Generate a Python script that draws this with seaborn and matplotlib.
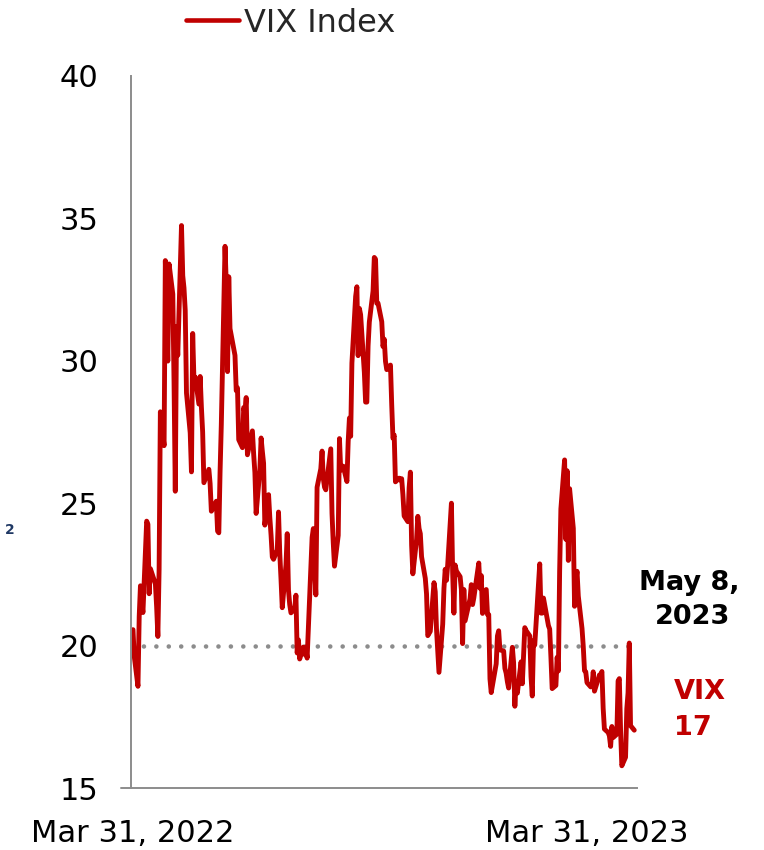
import numpy as np
import pandas as pd
import matplotlib
matplotlib.use("Agg")
import matplotlib.pyplot as plt
import seaborn as sns

# ---- data: VIX daily closes (trading days) ----
HOLIDAYS = ["2022-04-15", "2022-05-30", "2022-06-20", "2022-07-04", "2022-09-05",
            "2022-11-24", "2022-12-26", "2023-01-02", "2023-01-16", "2023-02-20",
            "2023-04-07"]
START_DATE = "2022-03-31"
END_DATE = "2023-05-08"

vix_2022_03 = [20.56]
vix_2022_04 = [19.63, 18.57, 21.03, 22.10, 21.55, 21.16, 24.37, 24.26, 21.82, 22.70,
               22.17, 21.37, 20.32, 22.68, 28.21, 27.02, 33.52, 31.60, 29.99, 33.40]
vix_2022_05 = [32.34, 29.25, 25.42, 31.20, 30.19, 34.75, 32.99, 32.56, 31.77, 28.87,
               27.47, 26.10, 30.96, 29.35, 29.43, 28.48, 29.45, 28.37, 27.50, 25.72, 26.19]
vix_2022_06 = [25.69, 24.72, 24.79, 25.07, 24.02, 23.96, 26.09, 27.75, 34.02, 32.69,
               29.62, 32.95, 31.13, 30.19, 28.95, 29.05, 27.23, 26.95, 28.36, 28.16, 28.71]
vix_2022_07 = [26.70, 27.54, 26.73, 26.08, 24.64, 26.17, 27.29, 26.82, 26.40, 24.23,
               25.30, 24.50, 23.88, 23.11, 23.03, 23.36, 24.69, 23.24, 22.33, 21.33]
vix_2022_08 = [22.84, 23.93, 21.95, 21.44, 21.15, 21.29, 21.77, 19.74, 20.20, 19.53,
               19.95, 19.69, 19.90, 19.56, 20.60, 23.80, 24.11, 22.82, 21.78, 25.56,
               26.21, 26.83, 25.87]
vix_2022_09 = [25.56, 25.47, 26.91, 24.64, 23.61, 22.79, 23.87, 27.27, 26.16, 26.27,
               26.30, 25.76, 27.16, 27.99, 27.35, 29.92, 32.26, 32.60, 30.18, 31.84, 31.62]
vix_2022_10 = [29.59, 28.55, 28.55, 30.52, 31.36, 32.45, 33.63, 33.57, 32.02, 32.02,
               31.37, 30.50, 30.76, 29.98, 29.69, 29.85, 28.46, 27.28, 27.39, 25.75, 25.88]
vix_2022_11 = [25.81, 25.86, 25.30, 24.55, 24.35, 25.54, 26.09, 23.53, 22.52, 23.73,
               24.54, 24.11, 23.93, 23.12, 22.36, 21.81, 20.35, 20.50, 22.21, 21.89, 20.58]
vix_2022_12 = [19.84, 19.06, 20.75, 22.01, 22.68, 22.29, 22.83, 25.00, 22.55, 21.14,
               22.83, 22.62, 22.42, 21.97, 20.07, 21.97, 20.87, 21.65, 22.14, 21.44, 21.67]
vix_2023_01 = [22.90, 22.01, 22.46, 21.13, 21.97, 21.09, 21.09, 18.83, 18.35, 19.36,
               20.34, 20.52, 19.85, 19.81, 19.20, 19.03, 18.73, 18.51, 19.94, 19.40]
vix_2023_02 = [17.87, 18.73, 18.33, 19.43, 18.66, 19.63, 20.63, 20.53, 20.34, 18.91,
               18.23, 20.17, 20.02, 22.87, 21.14, 21.14, 21.67, 20.95, 20.70]
vix_2023_03 = [20.58, 19.59, 18.49, 18.60, 19.59, 19.11, 22.61, 24.80, 26.52, 23.73,
               26.14, 22.99, 25.51, 24.12, 21.38, 22.26, 22.61, 21.74, 20.60, 19.97,
               19.12, 19.08, 18.70]
vix_2023_04 = [18.55, 18.58, 19.08, 18.40, 18.97, 18.97, 19.09, 17.80, 17.07, 16.95,
               16.83, 16.46, 17.16, 16.77, 16.89, 18.76, 18.84, 17.03, 15.78]
vix_2023_05 = [16.08, 17.78, 18.34, 20.09, 17.19, 17.03]

REFERENCE_LEVEL = 20
X_TICKS = ["2022-03-31", "2023-03-31"]
X_TICK_LABELS = ["Mar 31, 2022", "Mar 31, 2023"]
Y_TICKS = [15, 20, 25, 30, 35, 40]
SERIES_LABEL = "VIX Index"
DATE_NOTE = ["May 8,", "2023"]
VALUE_NOTE = ["VIX", "17"]

values = (vix_2022_03 + vix_2022_04 + vix_2022_05 + vix_2022_06 + vix_2022_07 +
          vix_2022_08 + vix_2022_09 + vix_2022_10 + vix_2022_11 + vix_2022_12 +
          vix_2023_01 + vix_2023_02 + vix_2023_03 + vix_2023_04 + vix_2023_05)
dates = pd.bdate_range(START_DATE, END_DATE, freq="C", holidays=HOLIDAYS)
n = min(len(dates), len(values))
if len(dates) != len(values):
    print("length mismatch", len(dates), len(values))
df = pd.DataFrame({"date": dates[:n], "vix": values[:n]})

# ---- style ----
sns.set_style("white")
plt.rcParams["font.family"] = ["DejaVu Sans"]

RED = "#C00000"
GREY = "#8C8C8C"

W, H = 764, 850
fig = plt.figure(figsize=(W / 100, H / 100), dpi=100)
L, R, B, T = 131, 637, 788, 76
ax = fig.add_axes([L / W, 1 - B / H, (R - L) / W, (B - T) / H])

sns.lineplot(data=df, x="date", y="vix", color=RED, linewidth=3.5, ax=ax,
             label=SERIES_LABEL, solid_joinstyle="round", solid_capstyle="round")

ax.axhline(REFERENCE_LEVEL, color=GREY, linewidth=3.3, linestyle=(0, (0.01, 2.7)),
           dash_capstyle="round", zorder=1)

ax.set_ylim(15, 40)
ax.set_xlim(pd.Timestamp("2022-03-31") - pd.Timedelta(days=1.6),
            pd.Timestamp("2023-05-10") + pd.Timedelta(days=0.2))
ax.set_yticks(Y_TICKS)
ax.set_xticks([pd.Timestamp(d) for d in X_TICKS])
ax.set_xticklabels(X_TICK_LABELS)
ax.set_xlabel("")
ax.set_ylabel("")

for s in ["top", "right"]:
    ax.spines[s].set_visible(False)
for s in ["left", "bottom"]:
    ax.spines[s].set_color(GREY)
    ax.spines[s].set_linewidth(1.4)
ax.plot([-0.02, 0], [0, 0], transform=ax.transAxes, clip_on=False, color=GREY, lw=1.4)

ax.tick_params(axis="both", which="major", labelsize=22, colors="black",
               length=7.2, width=1.4, color=GREY, direction="out")
ax.tick_params(axis="y", pad=16)
ax.tick_params(axis="x", pad=15)
ax.grid(False)

# legend
ax.get_legend().remove()
leg = fig.legend(*ax.get_legend_handles_labels(), loc="center left",
                 bbox_to_anchor=(186 / W, 1 - 23 / H), frameon=False, fontsize=23,
                 handlelength=1.65, handletextpad=0.15, borderpad=0, borderaxespad=0)
for line in leg.get_lines():
    line.set_linewidth(3.3)

# annotations
NOTE_SIZE = 19.5
fig.text(689 / W, 1 - 583 / H, DATE_NOTE[0], ha="center", va="center",
         fontsize=NOTE_SIZE, fontweight="bold", color="black")
fig.text(693 / W, 1 - 617 / H, DATE_NOTE[1], ha="center", va="center",
         fontsize=NOTE_SIZE, fontweight="bold", color="black")
fig.text(674 / W, 1 - 692 / H, VALUE_NOTE[0], ha="left", va="center",
         fontsize=NOTE_SIZE, fontweight="bold", color=RED)
fig.text(674 / W, 1 - 728 / H, VALUE_NOTE[1], ha="left", va="center",
         fontsize=NOTE_SIZE, fontweight="bold", color=RED)
fig.text(5 / W, 1 - 530 / H, "2", ha="left", va="center",
         fontsize=10, fontweight="bold", color="#1F3864")

fig.savefig("out.png", dpi=100)
